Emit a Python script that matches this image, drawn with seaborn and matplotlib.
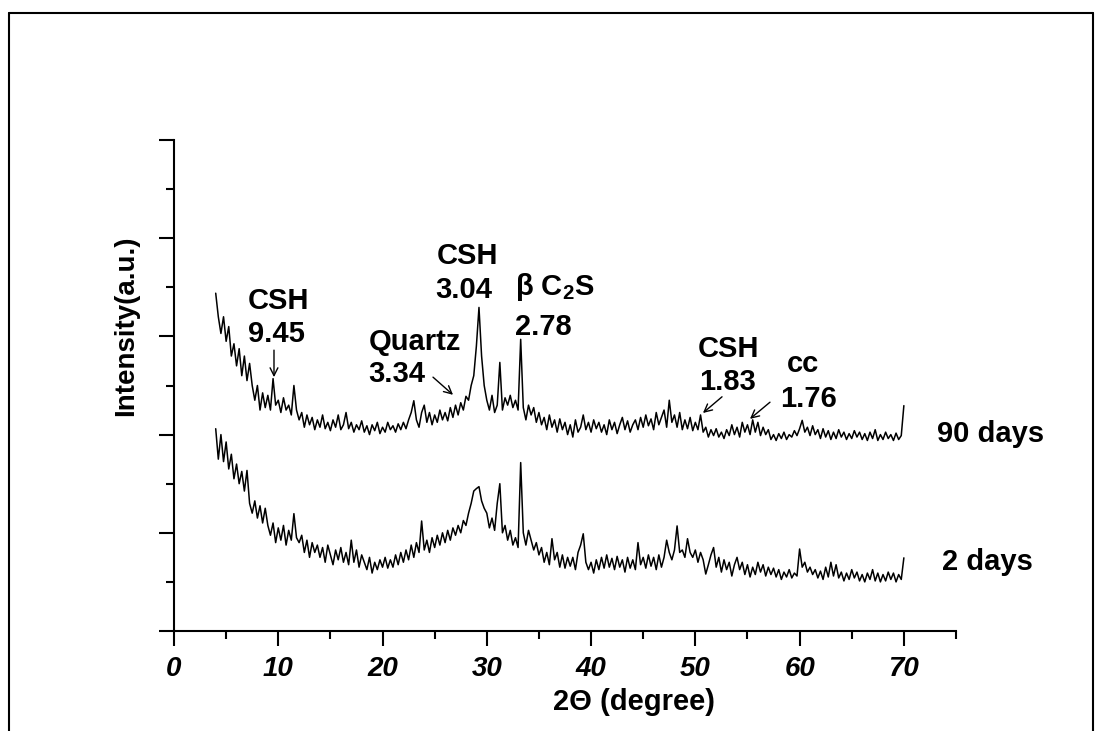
import numpy as np
import pandas as pd
import matplotlib
matplotlib.use('Agg')
import matplotlib.pyplot as plt
import seaborn as sns
from matplotlib.lines import Line2D

# 2-theta range of the scans (degrees), intensities read every 0.25 deg
theta_start = 4.0
theta_end = 70.0

days90 = [688, 640, 606, 640, 590, 620, 560, 585, 540, 575, 520, 560,
          510, 545, 500, 470, 500, 450, 485, 455, 480, 450, 514, 460,
          470, 445, 475, 450, 460, 440, 500, 450, 430, 445, 415, 440,
          420, 435, 410, 430, 415, 440, 412, 425, 408, 430, 415, 440,
          410, 420, 445, 412, 425, 405, 420, 410, 428, 405, 418, 400,
          420, 408, 425, 402, 415, 405, 425, 410, 418, 405, 422, 410,
          425, 412, 430, 445, 469, 430, 415, 445, 460, 425, 445, 420,
          440, 425, 450, 430, 445, 428, 455, 435, 460, 440, 465, 450,
          478, 470, 500, 520, 580, 659, 560, 500, 470, 450, 480, 445,
          460, 547, 450, 475, 460, 480, 455, 470, 450, 594, 455, 430,
          460, 440, 455, 425, 445, 420, 435, 410, 440, 415, 430, 405,
          432, 410, 425, 400, 420, 395, 430, 405, 415, 440, 410, 425,
          405, 430, 412, 425, 405, 420, 400, 430, 410, 425, 402, 420,
          435, 410, 428, 405, 420, 430, 410, 435, 415, 440, 418, 432,
          410, 445, 420, 435, 450, 415, 470, 425, 440, 415, 445, 410,
          430, 412, 435, 408, 425, 410, 440, 405, 415, 395, 410, 398,
          412, 395, 405, 392, 410, 398, 420, 400, 415, 395, 425, 405,
          420, 400, 430, 405, 425, 398, 415, 400, 410, 390, 400, 388,
          402, 392, 405, 390, 400, 395, 408, 398, 412, 429, 405, 415,
          398, 418, 400, 410, 392, 412, 395, 408, 390, 405, 392, 410,
          395, 405, 390, 402, 392, 408, 395, 405, 390, 402, 388, 405,
          392, 410, 388, 400, 390, 405, 392, 400, 388, 403, 390, 398,
          459]

days2 = [412, 350, 400, 345, 385, 330, 360, 310, 340, 300, 325, 285,
         327, 260, 240, 265, 230, 255, 220, 250, 215, 195, 220, 180,
         210, 185, 215, 175, 205, 185, 239, 190, 180, 195, 160, 185,
         150, 180, 160, 175, 150, 170, 140, 175, 155, 135, 165, 145,
         170, 140, 160, 135, 185, 140, 165, 130, 155, 140, 125, 150,
         118, 140, 125, 145, 130, 150, 128, 145, 130, 155, 135, 160,
         140, 165, 145, 175, 150, 180, 160, 224, 165, 185, 160, 190,
         170, 195, 175, 200, 180, 205, 185, 210, 195, 215, 200, 225,
         215, 240, 260, 285, 290, 294, 265, 250, 240, 210, 230, 205,
         260, 300, 200, 215, 185, 205, 175, 190, 170, 343, 200, 175,
         205, 185, 165, 180, 155, 170, 140, 160, 135, 188, 145, 160,
         130, 155, 128, 150, 132, 150, 125, 160, 175, 198, 140, 125,
         140, 118, 145, 125, 150, 128, 155, 130, 148, 125, 152, 130,
         145, 120, 150, 128, 145, 125, 180, 135, 150, 128, 155, 132,
         150, 125, 155, 130, 150, 185, 160, 145, 165, 214, 160, 165,
         150, 188, 160, 150, 165, 140, 160, 145, 116, 135, 155, 170,
         130, 150, 120, 145, 125, 140, 112, 135, 150, 125, 140, 115,
         135, 110, 130, 115, 140, 120, 135, 112, 130, 115, 128, 110,
         125, 105, 120, 110, 125, 108, 118, 112, 167, 130, 140, 120,
         130, 115, 125, 108, 122, 105, 130, 110, 140, 112, 135, 108,
         120, 102, 118, 105, 125, 108, 120, 102, 115, 100, 118, 105,
         125, 102, 118, 100, 115, 102, 120, 105, 118, 100, 115, 105,
         149]

theta = np.linspace(theta_start, theta_end, len(days90))
df = pd.DataFrame({'theta': np.concatenate([theta, theta]),
                   'intensity': days90 + days2,
                   'sample': ['90 days'] * len(days90) + ['2 days'] * len(days2)})

sns.set_style('ticks')
plt.rcParams['font.family'] = ['Liberation Sans', 'DejaVu Sans']
plt.rcParams['mathtext.fontset'] = 'custom'
plt.rcParams['mathtext.rm'] = 'Liberation Sans:bold'
plt.rcParams['mathtext.bf'] = 'Liberation Sans:bold'
plt.rcParams['text.color'] = 'black'
plt.rcParams['xtick.color'] = 'black'
plt.rcParams['ytick.color'] = 'black'
plt.rcParams['axes.edgecolor'] = 'black'

W, H = 1102, 731
fig = plt.figure(figsize=(W / 100, H / 100), dpi=100)
ax = fig.add_axes([174 / W, 1 - 631 / H, (956 - 174) / W, (631 - 140) / H])

sns.lineplot(data=df, x='theta', y='intensity', units='sample', estimator=None,
             color='black', linewidth=1.1, ax=ax, legend=False)

ax.set_xlim(0, 75)
ax.set_ylim(0, 1000)
ax.set_xticks(range(0, 71, 10))
ax.set_xticks(range(5, 76, 10), minor=True)
ax.set_yticks(range(0, 1001, 200))
ax.set_yticks(range(100, 1000, 200), minor=True)
ax.set_yticklabels([])
ax.set_xlabel('')
ax.set_ylabel('')
for lbl in ax.get_xticklabels():
    lbl.set_fontstyle('italic')
    lbl.set_fontweight('bold')
    lbl.set_fontsize(20)
    lbl.set_color('black')
ax.tick_params(which='major', length=11, width=1.5, color='black', pad=7)
ax.tick_params(which='minor', length=6, width=1.5, color='black')
sns.despine(ax=ax)
for s in ['left', 'bottom']:
    ax.spines[s].set_linewidth(1.5)
    ax.spines[s].set_color('black')

# peak labels (data coords, baseline of each line)
fs = 21
ax.text(7.1, 656, 'CSH', fontsize=fs, fontweight='bold')
ax.text(7.1, 589, '9.45', fontsize=fs, fontweight='bold')
ax.text(18.7, 572, 'Quartz', fontsize=fs, fontweight='bold')
ax.text(18.6, 507, '3.34', fontsize=fs, fontweight='bold')
ax.text(25.2, 747, 'CSH', fontsize=fs, fontweight='bold')
ax.text(25.1, 678, '3.04', fontsize=fs, fontweight='bold')
ax.text(32.7, 684, r'β C$_{\mathbf{2}}$S', fontsize=fs, fontweight='bold')
ax.text(32.7, 603, '2.78', fontsize=fs, fontweight='bold')
ax.text(50.25, 558, 'CSH', fontsize=fs, fontweight='bold')
ax.text(50.35, 491, '1.83', fontsize=fs, fontweight='bold')
ax.text(58.8, 527, 'cc', fontsize=fs, fontweight='bold')
ax.text(58.1, 456, '1.76', fontsize=fs, fontweight='bold')
ax.text(73.2, 385, '90 days', fontsize=fs, fontweight='bold', clip_on=False)
ax.text(73.7, 124, '2 days', fontsize=fs, fontweight='bold', clip_on=False)

arrows = [((9.59, 572), (9.59, 517)),
          ((24.84, 517), (26.76, 481)),
          ((52.56, 477), (50.73, 444)),
          ((57.16, 466), (55.24, 432))]
for tail, tip in arrows:
    ax.annotate('', xy=tip, xytext=tail,
                arrowprops=dict(arrowstyle='->', color='black', lw=1,
                                shrinkA=0, shrinkB=0, mutation_scale=14))

fig.text(126 / W, 1 - 326 / H, 'Intensity(a.u.)', rotation=90, ha='center',
         va='center', fontsize=20, fontweight='bold')
fig.text(553 / W, 1 - 710 / H, '2Θ (degree)', ha='left', va='baseline',
         fontsize=21, fontweight='bold')

# outer frame (open at the bottom)
for xs, ys in [([9, 9], [731, 13]), ([9, 1093], [13, 13]), ([1093, 1093], [13, 731])]:
    fig.add_artist(Line2D([x / W for x in xs], [1 - y / H for y in ys],
                          color='black', linewidth=1.5))

fig.savefig('out.png', dpi=100)
